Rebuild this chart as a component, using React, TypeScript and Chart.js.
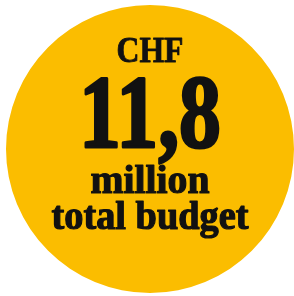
import React, { useEffect, useRef } from "react";
import { Chart, registerables } from "chart.js";

Chart.register(...registerables);

const categories = ["total budget"];
const values = [11.8];
const currency = "CHF";
const valueLabel = "11,8";
const unitLabel = "million";
const captionLabel = "total budget";

type Line = { text: string; size: number; y: number; w: number; stroke: number };

const textPlugin = {
  id: "centerText",
  afterDraw(chart: any) {
    const ctx = chart.ctx as CanvasRenderingContext2D;
    const lines: Line[] = [
      { text: currency, size: 35, y: 62, w: 67, stroke: 0.8 },
      { text: valueLabel, size: 104, y: 147, w: 142, stroke: 3 },
      { text: unitLabel, size: 40, y: 193, w: 119, stroke: 1.2 },
      { text: captionLabel, size: 40, y: 229, w: 197, stroke: 1.2 },
    ];
    const cx = 150;
    ctx.save();
    ctx.fillStyle = "#111111";
    ctx.strokeStyle = "#111111";
    ctx.lineJoin = "round";
    ctx.textAlign = "center";
    ctx.textBaseline = "alphabetic";
    for (const l of lines) {
      ctx.font = `bold ${l.size}px "Liberation Serif", serif`;
      const m = ctx.measureText(l.text).width;
      ctx.save();
      ctx.translate(cx, l.y);
      const s = l.w / m;
      ctx.scale(s, 1);
      ctx.lineWidth = l.stroke;
      ctx.fillText(l.text, 0, 0);
      ctx.strokeText(l.text, 0, 0);
      ctx.restore();
    }
    ctx.restore();
  },
};

export default function App() {
  const ref = useRef<HTMLCanvasElement | null>(null);
  useEffect(() => {
    if (!ref.current) return;
    const chart = new Chart(ref.current, {
      type: "pie",
      data: {
        labels: categories,
        datasets: [
          {
            data: values,
            backgroundColor: ["#FBBD00"],
            borderWidth: 0,
          },
        ],
      },
      options: {
        animation: false,
        responsive: false,
        maintainAspectRatio: false,
        layout: { padding: { left: 6, right: 0, top: 5, bottom: 3 } },
        plugins: {
          legend: { display: false },
          tooltip: { enabled: false },
          title: { display: false },
        },
      },
      plugins: [textPlugin],
    });
    return () => chart.destroy();
  }, []);
  return (
    <div style={{ position: "fixed", left: 0, top: 0, width: 294, height: 296, background: "#ffffff" }}>
      <canvas ref={ref} width={294} height={296} style={{ display: "block", width: 294, height: 296 }} />
    </div>
  );
}
